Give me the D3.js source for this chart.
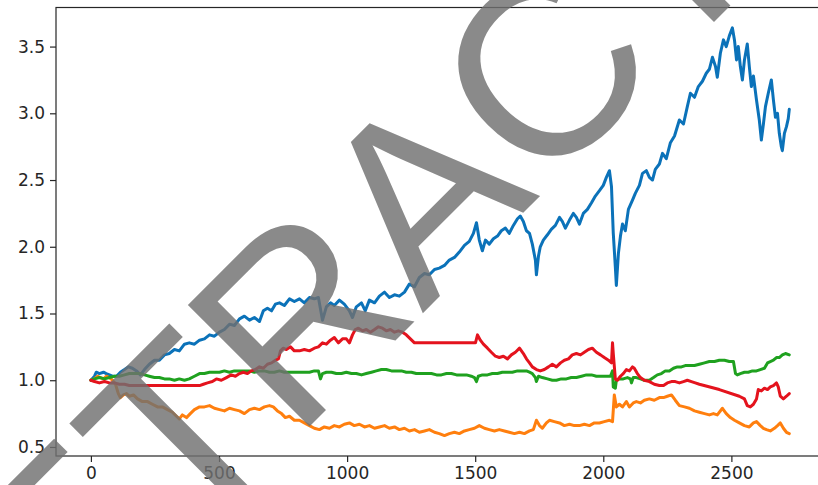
<!DOCTYPE html>
<html>
<head>
<meta charset="utf-8">
<script src="https://cdn.jsdelivr.net/npm/d3@7"></script>
<style>
  html, body { margin: 0; padding: 0; background: #fff; }
  svg { display: block; }
  .tick text { font-family: "DejaVu Sans", sans-serif; font-size: 17px; fill: #262626; }
</style>
</head>
<body>
<svg id="chart" width="818" height="485"></svg>
<script>
// Day index vs. normalised value for each of the four series
const lineBlue = [
[0,1.00],[14,1.03],[21,1.06],[33,1.05],[49,1.06],[60,1.05],[72,1.04],[84,1.03],[100,1.03],[115,1.06],[131,1.08],[146,1.10],[162,1.09],[178,1.07],[193,1.04],[209,1.08],[228,1.12],[248,1.15],[267,1.15],[287,1.19],[306,1.20],[326,1.23],[345,1.22],[365,1.27],[384,1.28],[404,1.27],[424,1.30],[443,1.31],[463,1.34],[482,1.33],[502,1.36],[521,1.38],[541,1.42],[560,1.41],[580,1.46],[599,1.48],[619,1.45],[638,1.47],[658,1.44],[673,1.52],[689,1.54],[705,1.52],[720,1.57],[736,1.58],[755,1.56],[775,1.61],[794,1.59],[814,1.61],[833,1.58],[853,1.62],[872,1.61],[888,1.62],[904,1.45],[919,1.55],[935,1.58],[950,1.56],[970,1.60],[989,1.57],[1009,1.52],[1021,1.47],[1036,1.55],[1056,1.58],[1071,1.52],[1087,1.60],[1107,1.58],[1126,1.63],[1146,1.66],[1165,1.62],[1185,1.64],[1204,1.63],[1224,1.66],[1243,1.72],[1263,1.70],[1282,1.77],[1302,1.80],[1321,1.79],[1341,1.83],[1360,1.84],[1380,1.86],[1399,1.90],[1419,1.92],[1438,1.96],[1458,2.01],[1477,2.04],[1493,2.10],[1505,2.18],[1516,2.05],[1528,1.97],[1540,2.05],[1555,2.02],[1571,2.06],[1587,2.08],[1602,2.12],[1618,2.14],[1633,2.10],[1649,2.16],[1665,2.21],[1676,2.23],[1688,2.19],[1700,2.12],[1712,2.10],[1723,2.02],[1735,1.90],[1739,1.79],[1747,1.93],[1754,2.00],[1766,2.05],[1782,2.09],[1797,2.13],[1813,2.16],[1829,2.22],[1840,2.19],[1852,2.14],[1868,2.20],[1883,2.25],[1895,2.22],[1907,2.17],[1922,2.25],[1938,2.28],[1954,2.33],[1969,2.38],[1985,2.42],[2000,2.46],[2012,2.52],[2024,2.57],[2032,2.45],[2039,2.10],[2047,1.85],[2051,1.71],[2059,1.95],[2067,2.08],[2075,2.17],[2086,2.12],[2098,2.28],[2114,2.35],[2125,2.40],[2141,2.46],[2153,2.55],[2168,2.57],[2180,2.52],[2192,2.50],[2203,2.58],[2219,2.62],[2231,2.70],[2246,2.66],[2262,2.78],[2278,2.83],[2297,2.95],[2313,2.92],[2328,3.05],[2340,3.15],[2356,3.12],[2371,3.20],[2387,3.24],[2402,3.30],[2414,3.33],[2426,3.42],[2438,3.35],[2445,3.27],[2457,3.45],[2469,3.55],[2480,3.50],[2492,3.58],[2504,3.64],[2512,3.55],[2520,3.40],[2527,3.50],[2535,3.35],[2543,3.25],[2551,3.40],[2562,3.52],[2570,3.35],[2578,3.20],[2586,3.28],[2598,3.10],[2609,2.95],[2617,2.80],[2625,2.92],[2633,3.05],[2644,3.15],[2656,3.25],[2664,3.10],[2672,2.97],[2680,3.00],[2687,2.85],[2695,2.75],[2699,2.72],[2707,2.85],[2715,2.90],[2722,2.96],[2726,3.03]
];

const lineOrange = [
[0,1.00],[14,1.01],[25,1.03],[37,1.02],[49,1.01],[60,1.03],[72,1.02],[84,1.00],[96,0.97],[107,0.90],[115,0.87],[127,0.89],[139,0.90],[150,0.88],[166,0.89],[182,0.86],[201,0.84],[221,0.84],[240,0.82],[260,0.80],[279,0.80],[299,0.78],[318,0.76],[334,0.73],[345,0.71],[357,0.74],[373,0.72],[388,0.75],[404,0.78],[424,0.80],[443,0.80],[463,0.81],[482,0.79],[502,0.78],[521,0.77],[541,0.79],[560,0.78],[580,0.77],[599,0.75],[619,0.78],[638,0.79],[658,0.78],[677,0.80],[697,0.81],[712,0.80],[728,0.77],[744,0.75],[759,0.72],[775,0.73],[794,0.70],[814,0.70],[833,0.68],[853,0.66],[872,0.64],[892,0.63],[911,0.65],[931,0.64],[950,0.66],[970,0.65],[989,0.67],[1009,0.68],[1028,0.66],[1048,0.67],[1068,0.65],[1087,0.66],[1107,0.64],[1126,0.65],[1146,0.66],[1165,0.64],[1185,0.65],[1204,0.63],[1224,0.64],[1243,0.62],[1263,0.63],[1282,0.61],[1302,0.62],[1321,0.63],[1341,0.61],[1360,0.60],[1380,0.585],[1399,0.60],[1419,0.61],[1438,0.60],[1458,0.62],[1477,0.63],[1497,0.64],[1516,0.66],[1536,0.64],[1555,0.63],[1575,0.62],[1594,0.63],[1614,0.62],[1633,0.61],[1653,0.60],[1673,0.61],[1692,0.60],[1712,0.62],[1727,0.63],[1739,0.70],[1751,0.66],[1762,0.64],[1778,0.68],[1790,0.70],[1809,0.69],[1829,0.68],[1848,0.66],[1868,0.67],[1887,0.66],[1907,0.66],[1926,0.67],[1946,0.66],[1965,0.68],[1985,0.68],[2004,0.69],[2024,0.70],[2036,0.69],[2043,0.89],[2051,0.80],[2063,0.82],[2075,0.80],[2090,0.84],[2102,0.80],[2117,0.83],[2129,0.84],[2145,0.83],[2160,0.85],[2180,0.86],[2199,0.85],[2219,0.87],[2235,0.87],[2250,0.88],[2266,0.89],[2281,0.85],[2297,0.81],[2317,0.80],[2336,0.79],[2356,0.77],[2375,0.76],[2395,0.75],[2414,0.74],[2430,0.75],[2445,0.74],[2465,0.79],[2480,0.75],[2496,0.72],[2512,0.70],[2531,0.68],[2551,0.66],[2570,0.65],[2586,0.68],[2598,0.69],[2613,0.66],[2625,0.64],[2637,0.63],[2652,0.62],[2668,0.64],[2680,0.66],[2691,0.68],[2703,0.64],[2715,0.61],[2726,0.60]
];

const lineGreen = [
[0,1.00],[14,1.01],[33,1.02],[53,1.01],[72,1.02],[92,1.03],[111,1.03],[131,1.04],[150,1.05],[170,1.05],[189,1.05],[209,1.04],[228,1.03],[248,1.02],[267,1.02],[287,1.01],[306,1.01],[326,1.00],[345,1.01],[365,1.00],[384,1.01],[404,1.03],[424,1.05],[443,1.05],[463,1.06],[482,1.06],[502,1.06],[521,1.07],[541,1.06],[560,1.07],[580,1.07],[599,1.07],[619,1.07],[638,1.06],[658,1.07],[677,1.07],[697,1.06],[716,1.06],[736,1.07],[755,1.06],[775,1.06],[794,1.06],[814,1.06],[833,1.06],[853,1.06],[872,1.07],[888,1.07],[896,1.01],[904,1.05],[919,1.06],[939,1.06],[958,1.05],[978,1.05],[997,1.06],[1017,1.05],[1036,1.05],[1056,1.04],[1075,1.05],[1095,1.06],[1114,1.07],[1134,1.08],[1153,1.08],[1173,1.07],[1192,1.07],[1212,1.07],[1231,1.06],[1251,1.06],[1270,1.05],[1290,1.05],[1310,1.05],[1329,1.05],[1349,1.04],[1368,1.04],[1388,1.05],[1407,1.05],[1427,1.04],[1446,1.04],[1466,1.04],[1485,1.03],[1497,1.02],[1505,0.99],[1512,1.03],[1528,1.04],[1548,1.04],[1567,1.05],[1587,1.05],[1606,1.06],[1626,1.06],[1645,1.06],[1665,1.07],[1684,1.07],[1700,1.07],[1712,1.06],[1723,1.05],[1735,1.02],[1739,0.99],[1747,1.03],[1762,1.02],[1782,1.01],[1801,1.00],[1817,1.00],[1836,1.01],[1856,1.01],[1875,1.02],[1895,1.02],[1915,1.03],[1934,1.04],[1954,1.04],[1973,1.03],[1993,1.03],[2012,1.03],[2028,1.03],[2036,1.07],[2039,0.95],[2047,0.94],[2051,1.00],[2063,1.01],[2078,1.01],[2094,1.02],[2106,1.01],[2110,0.98],[2117,1.02],[2129,1.02],[2145,1.01],[2160,1.00],[2180,1.00],[2196,1.02],[2211,1.04],[2227,1.05],[2242,1.07],[2258,1.07],[2274,1.09],[2289,1.10],[2305,1.10],[2320,1.11],[2336,1.11],[2356,1.11],[2375,1.12],[2395,1.13],[2414,1.14],[2434,1.14],[2453,1.15],[2473,1.15],[2492,1.14],[2508,1.14],[2516,1.05],[2523,1.04],[2535,1.05],[2551,1.06],[2566,1.06],[2582,1.07],[2598,1.07],[2613,1.08],[2629,1.09],[2641,1.13],[2652,1.14],[2664,1.15],[2676,1.17],[2687,1.17],[2699,1.19],[2711,1.20],[2726,1.19]
];

const lineRed = [
[0,1.00],[14,0.99],[33,0.98],[53,0.99],[72,0.98],[92,0.98],[111,0.97],[131,0.97],[150,0.96],[424,0.96],[439,0.97],[455,0.98],[474,0.99],[490,1.01],[509,1.00],[529,1.02],[548,1.04],[564,1.03],[580,1.05],[595,1.06],[611,1.05],[626,1.07],[642,1.08],[658,1.10],[673,1.09],[689,1.12],[705,1.13],[720,1.15],[732,1.16],[740,1.22],[751,1.24],[763,1.23],[779,1.25],[794,1.22],[814,1.22],[833,1.23],[853,1.22],[872,1.24],[888,1.25],[904,1.28],[919,1.27],[935,1.30],[950,1.32],[966,1.28],[982,1.31],[997,1.31],[1009,1.28],[1021,1.34],[1032,1.38],[1044,1.39],[1060,1.37],[1075,1.38],[1091,1.36],[1107,1.38],[1122,1.40],[1138,1.39],[1153,1.37],[1169,1.38],[1185,1.36],[1200,1.37],[1216,1.36],[1231,1.34],[1247,1.31],[1263,1.28],[1501,1.28],[1509,1.34],[1520,1.30],[1532,1.27],[1548,1.24],[1563,1.21],[1579,1.18],[1594,1.17],[1610,1.18],[1626,1.16],[1641,1.19],[1657,1.21],[1673,1.24],[1688,1.20],[1700,1.16],[1712,1.13],[1723,1.10],[1739,1.08],[1754,1.07],[1770,1.08],[1786,1.10],[1801,1.12],[1817,1.10],[1833,1.13],[1848,1.15],[1864,1.16],[1879,1.19],[1895,1.20],[1911,1.19],[1926,1.21],[1942,1.23],[1957,1.24],[1973,1.21],[1989,1.19],[2004,1.17],[2020,1.15],[2032,1.13],[2036,1.28],[2039,1.20],[2047,1.01],[2055,1.00],[2067,1.03],[2078,1.05],[2090,1.08],[2102,1.07],[2114,1.10],[2121,1.09],[2133,1.05],[2145,1.02],[2160,1.00],[2180,0.99],[2199,0.97],[2219,0.96],[2235,0.96],[2250,0.98],[2266,0.99],[2281,0.99],[2297,0.98],[2313,0.99],[2328,1.00],[2344,0.99],[2359,0.98],[2375,0.97],[2453,0.93],[2531,0.88],[2551,0.86],[2562,0.81],[2574,0.80],[2586,0.82],[2598,0.86],[2605,0.93],[2617,0.92],[2629,0.94],[2641,0.93],[2652,0.95],[2664,0.96],[2676,0.98],[2683,0.95],[2691,0.88],[2703,0.86],[2715,0.88],[2726,0.90]
];

const dayTicks = [0, 500, 1000, 1500, 2000, 2500];
const valueTicks = [0.5, 1.0, 1.5, 2.0, 2.5, 3.0, 3.5];
const seriesColors = ["#0b72b9", "#ff7f0e", "#1fa11f", "#e4131d"];
const stampText = "RETRACTED";

const allSeries = [lineBlue, lineOrange, lineGreen, lineRed];

// Plot frame in pixels; the right edge runs past the page edge
const frame = { left: 56, right: 824.2, top: 7.5, bottom: 456 };

// Auto-limits with a 5% margin on both axes
const allPts = allSeries.flat();
const [dMin, dMax] = d3.extent(allPts, d => d[0]);
const [vMin, vMax] = d3.extent(allPts, d => d[1]);
const dPad = 0.05 * (dMax - dMin), vPad = 0.05 * (vMax - vMin);

const x = d3.scaleLinear().domain([dMin - dPad, dMax + dPad]).range([frame.left, frame.right]);
const y = d3.scaleLinear().domain([vMin - vPad, vMax + vPad]).range([frame.bottom, frame.top]);

const svg = d3.select("#chart");

// Lines
const line = d3.line().x(d => x(d[0])).y(d => y(d[1]));
svg.append("g")
  .selectAll("path")
  .data(allSeries)
  .join("path")
  .attr("d", line)
  .attr("fill", "none")
  .attr("stroke", (d, i) => seriesColors[i])
  .attr("stroke-width", 3)
  .attr("stroke-linejoin", "round")
  .attr("stroke-linecap", "round");

// Axes
const xAxis = d3.axisBottom(x).tickValues(dayTicks).tickFormat(d3.format("d"))
  .tickSizeInner(6).tickSizeOuter(0).tickPadding(5);
const yAxis = d3.axisLeft(y).tickValues(valueTicks).tickFormat(d3.format(".1f"))
  .tickSizeInner(6).tickSizeOuter(0).tickPadding(5);

const gx = svg.append("g").attr("transform", `translate(0,${frame.bottom})`).call(xAxis);
const gy = svg.append("g").attr("transform", `translate(${frame.left},0)`).call(yAxis);
[gx, gy].forEach(g => {
  g.select(".domain").remove();
  g.selectAll(".tick line").attr("stroke", "#262626").attr("stroke-width", 1.2);
});

// Frame (spines)
svg.append("rect")
  .attr("x", frame.left).attr("y", frame.top)
  .attr("width", frame.right - frame.left).attr("height", frame.bottom - frame.top)
  .attr("fill", "none").attr("stroke", "#262626").attr("stroke-width", 1.2);

// Diagonal stamp across the plot
svg.append("text")
  .attr("transform", "translate(-58.6,794.6) rotate(-45)")
  .attr("font-family", "Liberation Sans, Arial, sans-serif")
  .attr("font-size", 250)
  .attr("fill", "#707070")
  .attr("fill-opacity", 0.82)
  .text(stampText);
</script>
</body>
</html>
